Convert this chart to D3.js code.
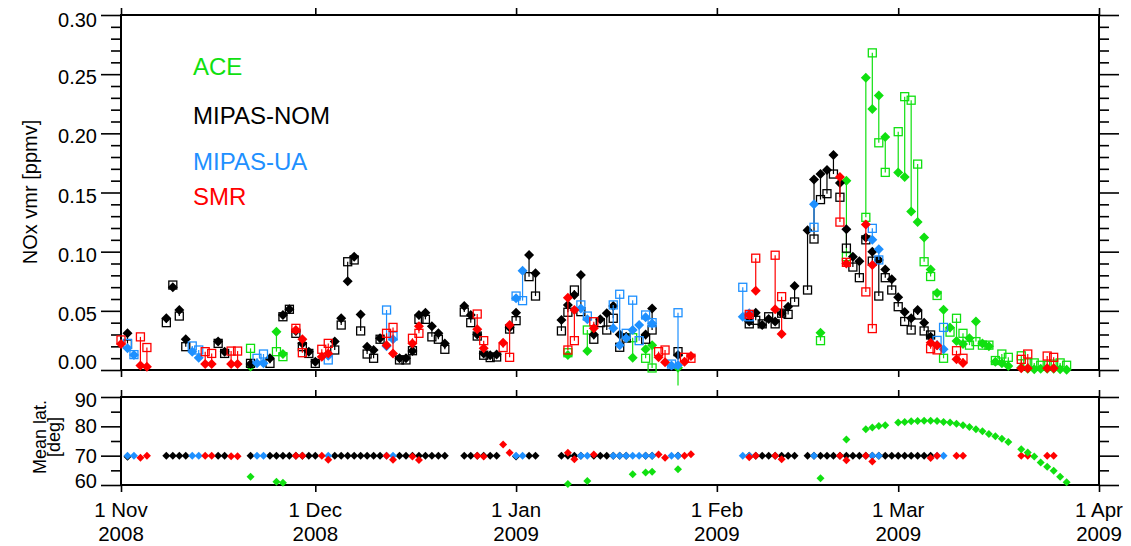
<!DOCTYPE html>
<html><head><meta charset="utf-8">
<script src="https://cdn.jsdelivr.net/npm/d3@7"></script>
<style>
body{margin:0;background:#fff}
svg{font-family:"Liberation Sans",Arial,Helvetica,sans-serif}
</style>
</head><body>
<svg id="chart" width="1131" height="546"></svg>
<script>
// ---------------- DATA (days counted from 1 Nov 2008) ----------------
const seriesNames = ["ACE", "MIPAS-NOM", "MIPAS-UA", "SMR"];

const aceDays    = [20,24,25,69,72,79,81,82,86,108,112,115,116,117,118,120,121,122,123,124,125,126,127,128,129,130,131,132,133,134,135,136,137,139,140,141,142,143,144,145,146];
const aceDiamond = [0.003,0.0324,0.0135,0.0127,0.016,0.0104,0.0175,0.021,0.002,0.0315,0.160,0.247,0.2206,0.232,0.197,0.167,0.163,0.134,0.125,0.112,0.085,0.065,0.051,0.036,0.0245,0.022,0.0268,0.041,0.0225,0.020,0.007,0.0056,0.0034,0.002,0.001,0.0006,0.001,0.001,0.001,0.0006,0.0003];
const aceSquare  = [0.0183,0.0155,0.0113,0.0146,0.0338,0.0273,0.0099,0.0017,-0.013,0.0248,0.0958,0.129,0.268,0.192,0.167,0.2014,0.231,0.228,0.174,0.0915,0.079,0.063,0.0099,0.032,0.0437,0.031,0.021,0.024,0.021,0.021,0.008,0.0135,0.0107,0.012,0.006,0.006,0.004,0.004,0.005,0.006,0.004];
const aceLat     = [62.8,61.1,60.8,60.3,61.4,63.7,64.3,64.5,65.4,62.3,75.5,79,79.6,80.1,80.4,81.3,81.5,81.7,81.8,81.9,81.9,81.8,81.5,81.3,80.9,80.4,79.8,79,78.3,77.4,76.6,75.8,74.7,72.2,71.1,69.7,67.7,66.2,64.9,62.8,60.9];

const nomDays    = [1,7,8,9,10,15,16,20,23,24,25,26,27,28,29,30,33,34,35,36,37,38,39,40,43,44,45,46,47,48,49,50,53,54,55,56,57,58,60,61,63,64,68,69,70,71,73,74,75,76,77,78,81,82,86,97,98,99,100,101,102,103,104,106,107,108,109,110,111,112,113,114,115,116,117,118,119,120,121,122,123,124,125];
const nomDiamond = [0.031,0.0437,0.070,0.0507,0.026,0.024,0.0155,0.005,0.0099,null,
  0.0465,0.0513,0.033,0.0225,0.0155,0.007,0.024,0.0437,0.075,0.0958,
  0.047,0.0197,0.0169,0.0268,0.0099,0.0099,0.016,0.0465,0.0484,0.037,
  0.031,0.0225,0.054,0.0465,0.030,0.014,0.0125,0.013,0.036,0.0484,
  0.0972,0.0817,0.0423,0.055,0.0634,0.0803,0.030,0.0428,0.0479,0.054,
  0.030,0.028,0.030,0.052,0.0127,0.041,0.0484,0.038,0.043,0.041,
  0.048,0.0535,0.071,0.118,0.161,0.1656,0.169,0.1817,0.158,0.119,
  0.0958,0.092,0.112,0.100,0.093,0.085,0.0766,0.0614,0.049,0.0437,
  0.0507,0.040,0.028];
const nomSquare  = [0.022,0.040,0.0718,0.0456,0.0197,0.0225,0.014,0.0056,0.0056,null,
  0.045,0.0513,0.031,0.0197,0.014,0.0056,0.0169,0.038,0.0915,0.093,
  0.033,0.0135,0.0099,0.026,0.0085,0.0085,0.0163,0.0428,0.0428,0.028,
  0.026,0.0175,0.049,0.040,0.0287,0.0125,0.0105,0.011,0.0346,0.0417,
  0.0789,0.0625,0.033,0.0488,0.0676,0.0493,0.026,0.040,0.0338,0.0437,
  0.0192,0.027,0.026,0.0338,0.0155,0.039,0.042,0.039,0.045,0.039,
  0.048,0.047,0.0575,0.0676,0.1107,0.144,0.149,0.1656,0.146,0.103,
  0.087,0.078,0.110,0.092,0.0625,0.078,0.0676,0.0535,0.041,0.0338,
  0.0465,0.033,0.0296];
const nomLat     = [69.6,70,70,70,70,70,70,70,70,70,
  70,70,70,70,70,70,70,70,70,70,
  70,70,70,70,70,70,70,70,70,70,
  70,70,70,70,70,70,70,70,null,69.7,
  70,70,70,70,70,70,70,70,70,70,
  70,70,70,70,70,70,70,70,70,70,
  70,70,70,70,70,70,70,70,70,70,
  70,70,70,70,70,70,70,70,70,70,
  70,70,70];

const uaDays    = [1,2,11,12,21,22,32,41,42,61,62,71,72,76,77,78,79,80,81,82,85,86,96,97,107,116,117,126,127];
const uaDiamond = [0.0183,0.0127,0.0155,0.0104,0.0056,0.0056,0.012,0.020,0.026,0.0606,0.0839,0.052,0.0428,0.0352,0.021,0.0268,0.0338,0.038,0.0445,0.0394,0.0037,0.004,0.045,0.048,0.140,0.110,0.102,0.021,0.0175];
const uaSquare  = [0.0225,0.013,0.0203,0.0169,0.0099,0.0135,0.0085,0.0507,0.0287,0.0625,0.0586,0.055,0.0456,0.055,0.064,0.031,0.059,0.0248,0.0465,0.040,0.005,0.0484,0.0699,0.045,0.1206,0.1197,0.093,0.025,0.036];
const uaLat     = [70,70,70,70,70,70,70,70,70,70,70,70,70,70,70,70,70,70,70,70,70,70,70,70,70,70,70,70,70];

const smrDays    = [0,3,4,13,14,17,18,27,28,31,32,41,42,45,46,55,56,59,60,69,70,73,83,84,87,88,97,98,101,102,111,112,115,116,125,126,129,130,139,140,143,144];
const smrDiamond = [0.022,0.0037,0.0028,0.005,0.005,0.005,0.005,0.0338,0.026,0.0113,0.014,0.021,0.014,0.0225,0.037,0.0344,0.0183,0.023,0.038,0.0611,0.0507,0.0352,0.0107,0.0065,0.007,0.0118,0.0465,0.067,0.0513,0.0304,0.163,0.090,0.123,0.0887,0.023,0.021,0.009,0.006,0.0014,0.0014,0.0014,0.0014];
const smrSquare  = [0.0254,0.028,0.019,0.0155,0.014,0.016,0.016,0.0352,0.0146,0.0175,0.0225,0.031,0.036,0.0268,0.031,0.0473,0.0248,0.019,0.0107,0.0169,0.0248,0.0408,0.0155,0.0169,0.0107,0.0099,0.047,0.0945,0.097,0.062,0.125,0.091,0.066,0.035,0.018,0.017,0.0163,0.0099,0.009,0.0135,0.0118,0.0107];
const smrLat     = [null,69.3,70,70,70,69.8,69.8,70,70,70,68.6,70,68.6,69.7,68.5,70,69.7,73.8,71,71,68.8,70.4,70.4,69.3,70,70.5,69.5,70,70,68.8,70,68.4,70,68,69.2,70,70,70,70,70,70,70];

const monthTicks  = ["2008-11-01","2008-12-01","2009-01-01","2009-02-01","2009-03-01","2009-04-01"];
const monthLabels = ["1 Nov","1 Dec","1 Jan","1 Feb","1 Mar","1 Apr"];
const yearLabels  = ["2008","2008","2009","2009","2009","2009"];
const vmrTicks    = [0,0.05,0.10,0.15,0.20,0.25,0.30];
const vmrLabels   = ["0.00","0.05","0.10","0.15","0.20","0.25","0.30"];
const latTicks    = [60,70,80,90];
const latLabels   = ["60","70","80","90"];

// ---------------- SETUP ----------------
const colors = {"ACE":"#10e010","MIPAS-NOM":"#000000","MIPAS-UA":"#1e90ff","SMR":"#ff0000"};
const svg = d3.select("#chart");
const start = new Date(Date.UTC(2008,10,1));
const toDate = d => d3.utcDay.offset(start, d);
const x = d3.scaleUtc().domain([start, new Date(Date.UTC(2009,3,1))]).range([121,1099]);
const yTop = d3.scaleLinear().domain([0,0.30]).range([370,15]);
const yLat = d3.scaleLinear().domain([60,90]).range([485,397]);
const monthDates = monthTicks.map(s => new Date(s+"T00:00:00Z"));

function build(days, dia, sq, lat){
  return days.map((d,i)=>({date:toDate(d), dia:dia[i], sq:sq[i], lat:lat[i]}));
}
const series = [
  {name:"ACE", data:build(aceDays,aceDiamond,aceSquare,aceLat)},
  {name:"MIPAS-NOM", data:build(nomDays,nomDiamond,nomSquare,nomLat)},
  {name:"MIPAS-UA", data:build(uaDays,uaDiamond,uaSquare,uaLat)},
  {name:"SMR", data:build(smrDays,smrDiamond,smrSquare,smrLat)}
];
const diamond = r => `M0,${-r}L${r},0L0,${r}L${-r},0Z`;

// ---------------- AXES ----------------
function yAxes(scale, majors, minors, x0, x1){
  const defs = [[d3.axisLeft,x0,majors,20],[d3.axisLeft,x0,minors,10],[d3.axisRight,x1,majors,20],[d3.axisRight,x1,minors,10]];
  defs.forEach(([ax,xx,vals,sz])=>{
    const g = svg.append("g").attr("transform",`translate(${xx},0)`);
    g.call(ax(scale).tickValues(vals).tickSize(sz).tickFormat(""));
    g.select(".domain").remove();
  });
}
function xAxes(yTopPx, yBotPx){
  const gT = svg.append("g").attr("transform",`translate(0,${yTopPx})`);
  gT.call(d3.axisTop(x).tickValues(monthDates).tickSize(7).tickFormat(""));
  gT.select(".domain").remove();
  const gB = svg.append("g").attr("transform",`translate(0,${yBotPx})`);
  gB.call(d3.axisBottom(x).tickValues(monthDates).tickSize(7).tickFormat(""));
  gB.select(".domain").remove();
}
const vmrMinors = d3.range(0,31).map(i=>i/100).filter((v,i)=>i%5!==0);
yAxes(yTop, vmrTicks, vmrMinors, 121, 1099);
xAxes(15, 370);
yAxes(yLat, latTicks, [65,75,85], 121, 1099);
xAxes(397, 485);
svg.selectAll(".tick line").attr("stroke","#000").attr("stroke-width",1.6);

// frames
svg.append("rect").attr("x",121).attr("y",15).attr("width",978).attr("height",355)
  .attr("fill","none").attr("stroke","#000").attr("stroke-width",2);
svg.append("rect").attr("x",121).attr("y",397).attr("width",978).attr("height",88)
  .attr("fill","none").attr("stroke","#000").attr("stroke-width",2);

// tick labels
svg.append("g").selectAll("text").data(vmrTicks).join("text")
  .attr("x",97).attr("y",(v)=>yTop(v)+(v===0?-8:(v===0.30?5:3)))
  .attr("text-anchor","end").attr("dominant-baseline","central")
  .attr("font-size",20).text((v,i)=>vmrLabels[i]);
svg.append("g").selectAll("text").data(latTicks).join("text")
  .attr("x",97).attr("y",(v)=>yLat(v)+(v===60?-4:(v===90?3:0)))
  .attr("text-anchor","end").attr("dominant-baseline","central")
  .attr("font-size",20).text((v,i)=>latLabels[i]);
// two-line date labels
const dl = svg.append("g").selectAll("g").data(monthDates).join("g")
  .attr("transform",d=>`translate(${x(d)},0)`)
  .attr("text-anchor","middle").attr("font-size",20.5);
dl.append("text").attr("y",517).text((d,i)=>monthLabels[i]);
dl.append("text").attr("y",541).text((d,i)=>yearLabels[i]);

// axis titles
svg.append("text").attr("transform","translate(37,192) rotate(-90)")
  .attr("text-anchor","middle").attr("font-size",20).text("NOx vmr [ppmv]");
const lt = svg.append("text").attr("transform","translate(0,437) rotate(-90)")
  .attr("text-anchor","middle").attr("font-size",18);
lt.append("tspan").attr("x",0).attr("y",46).text("Mean lat.");
lt.append("tspan").attr("x",0).attr("y",60).text("[deg]");

// legend
const legY = [75,124,170,205];
svg.append("g").selectAll("text").data(seriesNames).join("text")
  .attr("x",193).attr("y",(d,i)=>legY[i]).attr("font-size",24)
  .attr("fill",d=>colors[d]).text(d=>d);

// ---------------- MARKS: top panel ----------------
const topG = svg.append("g");
series.forEach(s=>{
  const c = colors[s.name];
  const g = topG.append("g");
  const both = s.data.filter(p=>p.dia!=null && p.sq!=null);
  g.selectAll("line").data(both).join("line")
    .attr("x1",p=>x(p.date)).attr("x2",p=>x(p.date))
    .attr("y1",p=>yTop(p.dia)).attr("y2",p=>yTop(p.sq))
    .attr("stroke",c).attr("stroke-width",1.2);
  g.selectAll("rect").data(s.data.filter(p=>p.sq!=null && p.sq>=0)).join("rect")
    .attr("x",p=>x(p.date)-4).attr("y",p=>yTop(p.sq)-4).attr("width",8).attr("height",8)
    .attr("fill","none").attr("stroke",c).attr("stroke-width",1.3);
  g.selectAll("path").data(s.data.filter(p=>p.dia!=null)).join("path")
    .attr("transform",p=>`translate(${x(p.date)},${yTop(p.dia)})`)
    .attr("d",diamond(5)).attr("fill",c);
});

// ---------------- MARKS: latitude panel ----------------
const latOrder = ["MIPAS-NOM","MIPAS-UA","SMR","ACE"];
latOrder.forEach(n=>{
  const s = series.find(t=>t.name===n);
  svg.append("g").selectAll("path").data(s.data.filter(p=>p.lat!=null)).join("path")
    .attr("transform",p=>`translate(${x(p.date)},${yLat(p.lat)})`)
    .attr("d",diamond(4)).attr("fill",colors[n]);
});
</script>
</body></html>
